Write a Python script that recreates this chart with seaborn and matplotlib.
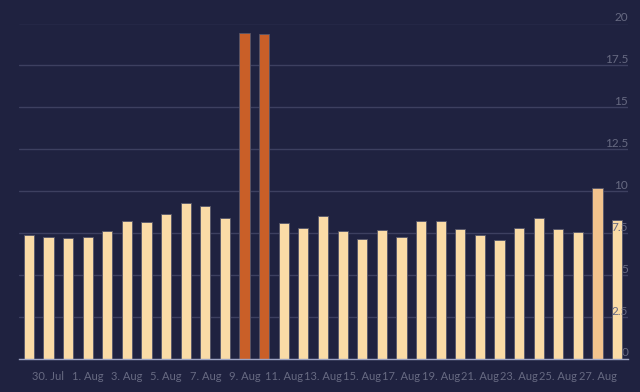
import pandas as pd
import matplotlib
matplotlib.use('Agg')
import matplotlib.pyplot as plt
import seaborn as sns

# daily values, 29 Jul - 28 Aug
days = pd.date_range('2023-07-29', '2023-08-28', freq='D')
values = [7.39, 7.27, 7.23, 7.27, 7.65, 8.25, 8.15, 8.63, 9.32, 9.10, 8.41,
          19.42, 19.38, 8.09, 7.83, 8.53, 7.61, 7.17, 7.67, 7.27, 8.21,
          8.25, 7.77, 7.39, 7.08, 7.83, 8.41, 7.77, 7.57, 10.18, 8.31]
highlight = ['2023-08-09', '2023-08-10']
recent = ['2023-08-27']
y_ticks = [0, 2.5, 5, 7.5, 10, 12.5, 15, 17.5, 20]

bg = '#1f2240'
peach = '#fadba6'
orange = '#c95f28'
light_orange = '#f2c38d'
text_col = '#676a82'

df = pd.DataFrame({'day': days, 'value': values})
df['label'] = df['day'].dt.strftime('%-d. %b')
df['key'] = df['day'].dt.strftime('%Y-%m-%d')
colors = [orange if k in highlight else light_orange if k in recent else peach
          for k in df['key']]

sns.set_theme(style='dark')
plt.rcParams['font.family'] = ['Lato', 'DejaVu Sans']

fig = plt.figure(figsize=(6.4, 3.92), dpi=100, facecolor=bg)
ax = fig.add_axes([19 / 640, 33 / 392, 609 / 640, 335.5 / 392])
ax.set_facecolor(bg)

sns.barplot(data=df, x='label', y='value', hue='label', palette=colors,
            legend=False, width=0.52, edgecolor='#55566a', linewidth=0.6,
            saturation=1, ax=ax)

ax.set_xlim(-0.5, len(df) - 0.45)
ax.set_ylim(0, 20)
ax.set_xlabel('')
ax.set_ylabel('')

# gridlines
ax.set_yticks(y_ticks)
ax.yaxis.grid(True, color='#3d4060', linewidth=1)
ax.xaxis.grid(False)
ax.set_axisbelow(True)
ax.tick_params(axis='y', length=0, labelleft=False)
for t in y_ticks:
    ax.text(1.0, t + 0.03, f'{t:g}', transform=ax.get_yaxis_transform(),
            ha='right', va='bottom', color=text_col, fontsize=8.5)

# x ticks every other day
pos = list(range(1, len(df), 2))
ax.set_xticks(pos)
ax.set_xticklabels(df['label'].iloc[pos], color=text_col, fontsize=8)
ax.tick_params(axis='x', length=5, width=1, color='#9da3c2', pad=4)

for s in ['top', 'right', 'left']:
    ax.spines[s].set_visible(False)
ax.spines['bottom'].set_color('#9da3c2')
ax.spines['bottom'].set_linewidth(1)

fig.savefig('out.png', dpi=100, facecolor=bg)
